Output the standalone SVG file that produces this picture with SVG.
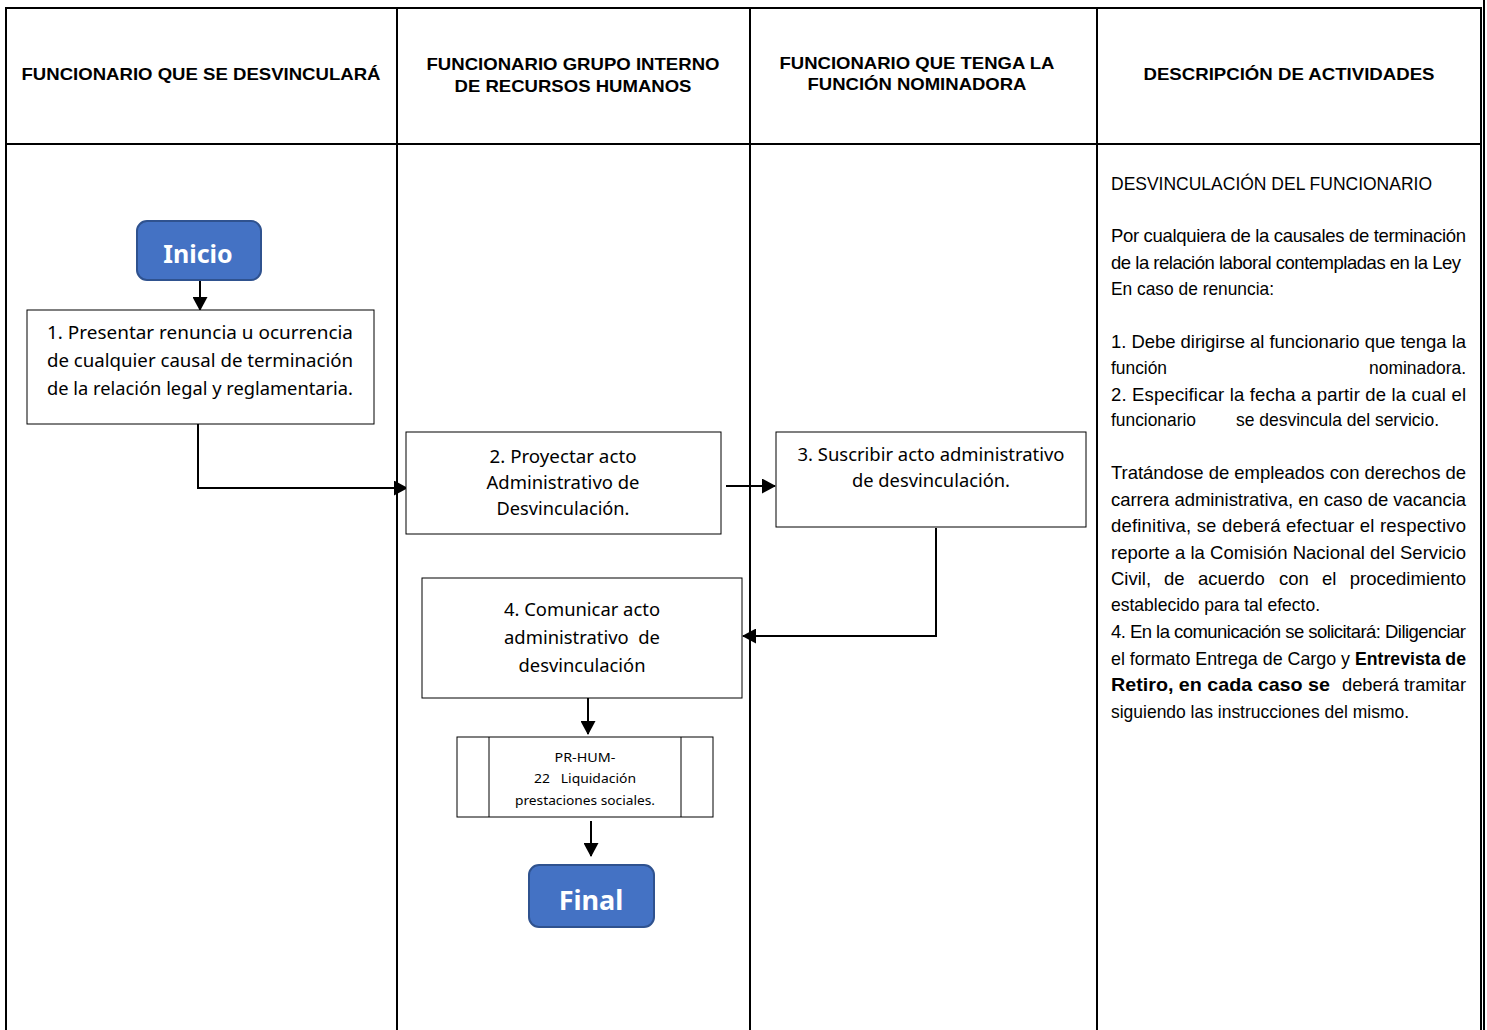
<svg xmlns="http://www.w3.org/2000/svg" width="1487" height="1030" viewBox="0 0 1487 1030">
<defs>
<marker id="ah" viewBox="0 0 14 15" refX="13" refY="7.5" markerWidth="7" markerHeight="7.5" orient="auto" markerUnits="strokeWidth"><path d="M0,0 L14,7.5 L0,15 z" fill="#000"/></marker>
<style>
.hd{font-family:"Liberation Sans",Arial,sans-serif;font-weight:bold;font-size:16.5px;fill:#000;text-anchor:middle}
.bx{fill:#fff;stroke:#000;stroke-width:1}
.bt{font-family:"Noto Sans","Open Sans",sans-serif;font-size:18px;fill:#000}
.sm{font-family:"Noto Sans","Open Sans",sans-serif;font-size:13px;fill:#000;text-anchor:middle}
.ds{font-family:"Liberation Sans",Arial,sans-serif;font-size:18.5px;fill:#000}
.b{font-weight:bold}
.term{fill:#4472C4;stroke:#2F528F;stroke-width:2}
.tt{font-family:"Noto Sans","Open Sans",sans-serif;font-weight:bold;fill:#fff;text-anchor:middle}
.ln{stroke:#000;stroke-width:2;fill:none}
.cn{stroke:#000;stroke-width:2;fill:none;marker-end:url(#ah)}
</style>
</defs>
<rect width="1487" height="1030" fill="#fff"/>
<g id="table">
<path class="ln" d="M6,1030 V8 H1481 V1030 M1484,0 V1030 M6,144 H1481 M397,8 V1030 M750,8 V1030 M1097,8 V1030"/>
<text class="hd" x="201" y="80" textLength="359" lengthAdjust="spacingAndGlyphs">FUNCIONARIO QUE SE DESVINCULARÁ</text>
<text class="hd" x="573" y="70" textLength="293" lengthAdjust="spacingAndGlyphs">FUNCIONARIO GRUPO INTERNO</text>
<text class="hd" x="573" y="92" textLength="237" lengthAdjust="spacingAndGlyphs">DE RECURSOS HUMANOS</text>
<text class="hd" x="917" y="69" textLength="275" lengthAdjust="spacingAndGlyphs">FUNCIONARIO QUE TENGA LA</text>
<text class="hd" x="917" y="90" textLength="219" lengthAdjust="spacingAndGlyphs">FUNCIÓN NOMINADORA</text>
<text class="hd" x="1289" y="80" textLength="291" lengthAdjust="spacingAndGlyphs">DESCRIPCIÓN DE ACTIVIDADES</text>
</g>
<g id="connectors">
<line class="cn" x1="200" y1="281" x2="200" y2="310"/>
<path class="cn" d="M198,424 V488 H407"/>
<line class="cn" x1="726" y1="486" x2="775" y2="486"/>
<path class="cn" d="M936,528 V636 H743"/>
<line class="cn" x1="588" y1="698" x2="588" y2="734"/>
<line class="cn" x1="591" y1="821" x2="591" y2="856"/>
</g>
<g id="inicio">
<rect class="term" x="137" y="221" width="124" height="59" rx="10"/>
<text class="tt" x="198" y="263" font-size="25">Inicio</text>
</g>
<g id="paso1">
<rect class="bx" x="27" y="310" width="347" height="114"/>
<text class="bt" x="47" y="339" textLength="306" lengthAdjust="spacingAndGlyphs">1. Presentar renuncia u ocurrencia</text>
<text class="bt" x="47" y="367" textLength="306" lengthAdjust="spacingAndGlyphs">de cualquier causal de terminación</text>
<text class="bt" x="47" y="395" textLength="306" lengthAdjust="spacingAndGlyphs">de la relación legal y reglamentaria.</text>
</g>
<g id="paso2">
<rect class="bx" x="406" y="432" width="315" height="102"/>
<text class="bt" x="563" y="463" text-anchor="middle" textLength="147" lengthAdjust="spacingAndGlyphs">2. Proyectar acto</text>
<text class="bt" x="563" y="489" text-anchor="middle" textLength="153" lengthAdjust="spacingAndGlyphs">Administrativo de</text>
<text class="bt" x="563" y="515" text-anchor="middle" textLength="133" lengthAdjust="spacingAndGlyphs">Desvinculación.</text>
</g>
<g id="paso3">
<rect class="bx" x="776" y="432" width="310" height="95"/>
<text class="bt" x="931" y="461" text-anchor="middle" textLength="267" lengthAdjust="spacingAndGlyphs">3. Suscribir acto administrativo</text>
<text class="bt" x="931" y="487" text-anchor="middle" textLength="158" lengthAdjust="spacingAndGlyphs">de desvinculación.</text>
</g>
<g id="paso4">
<rect class="bx" x="422" y="578" width="320" height="120"/>
<text class="bt" x="582" y="616" text-anchor="middle" textLength="156" lengthAdjust="spacingAndGlyphs">4. Comunicar acto</text>
<text class="bt" x="582" y="644" text-anchor="middle" textLength="156" lengthAdjust="spacingAndGlyphs" xml:space="preserve">administrativo  de</text>
<text class="bt" x="582" y="672" text-anchor="middle" textLength="127" lengthAdjust="spacingAndGlyphs">desvinculación</text>
</g>
<g id="prhum22">
<rect class="bx" x="457" y="737" width="256" height="80"/>
<path class="ln" style="stroke-width:1" d="M489,737 V817 M681,737 V817"/>
<text class="sm" x="585" y="762" textLength="61" lengthAdjust="spacingAndGlyphs">PR-HUM-</text>
<text class="sm" x="585" y="783" textLength="102" lengthAdjust="spacingAndGlyphs" xml:space="preserve">22   Liquidación</text>
<text class="sm" x="585" y="805" textLength="140" lengthAdjust="spacingAndGlyphs">prestaciones sociales.</text>
</g>
<g id="final">
<rect class="term" x="529" y="865" width="125" height="62" rx="10"/>
<text class="tt" x="591" y="910" font-size="27">Final</text>
</g>
<g id="descripcion">
<text class="ds" x="1111" y="190" textLength="321" lengthAdjust="spacingAndGlyphs">DESVINCULACIÓN DEL FUNCIONARIO</text>
<text class="ds" x="1111" y="242" textLength="355" lengthAdjust="spacing">Por cualquiera de la causales de terminación</text>
<text class="ds" x="1111" y="269" textLength="350" lengthAdjust="spacing">de la relación laboral contempladas en la Ley</text>
<text class="ds" x="1111" y="295" textLength="163" lengthAdjust="spacingAndGlyphs">En caso de renuncia:</text>
<text class="ds" x="1111" y="348" textLength="355" lengthAdjust="spacing">1. Debe dirigirse al funcionario que tenga la</text>
<text class="ds" x="1111" y="374" textLength="56" lengthAdjust="spacingAndGlyphs">función</text>
<text class="ds" x="1466" y="374" text-anchor="end" textLength="97" lengthAdjust="spacingAndGlyphs">nominadora.</text>
<text class="ds" x="1111" y="401" textLength="355" lengthAdjust="spacing">2. Especificar la fecha a partir de la cual el</text>
<text class="ds" x="1111" y="426" textLength="85" lengthAdjust="spacingAndGlyphs">funcionario</text>
<text class="ds" x="1236" y="426" textLength="203" lengthAdjust="spacingAndGlyphs">se desvincula del servicio.</text>
<text class="ds" x="1111" y="479" textLength="355" lengthAdjust="spacing">Tratándose de empleados con derechos de</text>
<text class="ds" x="1111" y="506" textLength="355" lengthAdjust="spacing">carrera administrativa, en caso de vacancia</text>
<text class="ds" x="1111" y="532" textLength="355" lengthAdjust="spacing">definitiva, se deberá efectuar el respectivo</text>
<text class="ds" x="1111" y="559" textLength="355" lengthAdjust="spacing">reporte a la Comisión Nacional del Servicio</text>
<text class="ds" x="1111" y="585">Civil,</text>
<text class="ds" x="1164" y="585">de</text>
<text class="ds" x="1198" y="585">acuerdo</text>
<text class="ds" x="1279" y="585">con</text>
<text class="ds" x="1322" y="585">el</text>
<text class="ds" x="1466" y="585" text-anchor="end">procedimiento</text>
<text class="ds" x="1111" y="611" textLength="209" lengthAdjust="spacingAndGlyphs">establecido para tal efecto.</text>
<text class="ds" x="1111" y="638" textLength="355" lengthAdjust="spacing">4. En la comunicación se solicitará: Diligenciar</text>
<text class="ds" x="1111" y="665" textLength="239" lengthAdjust="spacingAndGlyphs">el formato Entrega de Cargo y</text>
<text class="ds b" x="1466" y="665" text-anchor="end" textLength="111" lengthAdjust="spacingAndGlyphs">Entrevista de</text>
<text class="ds b" x="1111" y="691" textLength="219" lengthAdjust="spacingAndGlyphs">Retiro, en cada caso se</text>
<text class="ds" x="1466" y="691" text-anchor="end" textLength="124" lengthAdjust="spacingAndGlyphs">deberá tramitar</text>
<text class="ds" x="1111" y="718" textLength="298" lengthAdjust="spacingAndGlyphs">siguiendo las instrucciones del mismo.</text>
</g>
</svg>
